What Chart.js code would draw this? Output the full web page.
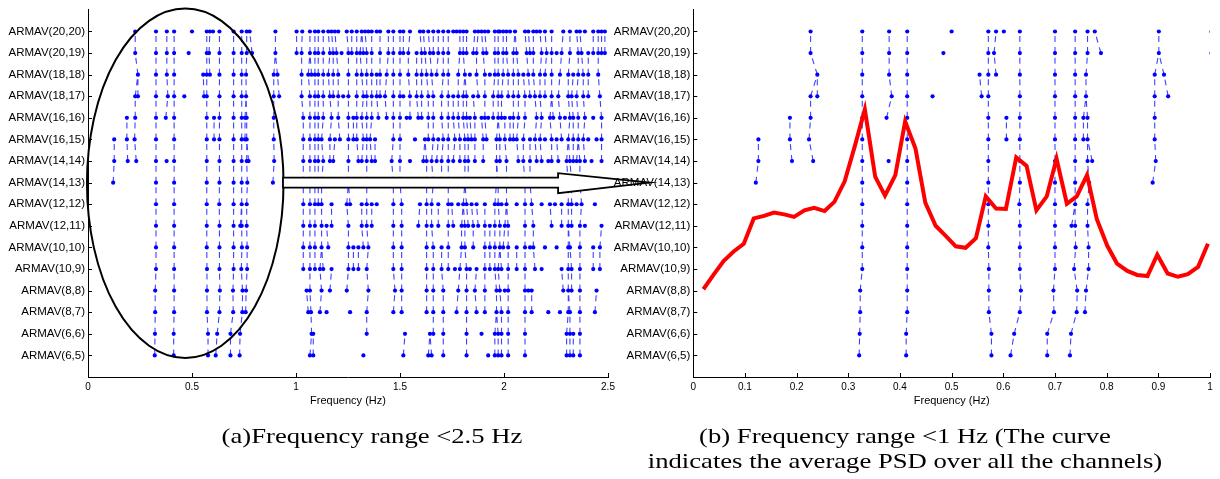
<!DOCTYPE html>
<html><head><meta charset="utf-8">
<script src="https://cdn.jsdelivr.net/npm/chart.js@4.4.1/dist/chart.umd.min.js"></script>
<style>
html,body{margin:0;padding:0;background:#fff;width:1220px;height:479px;overflow:hidden;}
#wrap{position:relative;width:1220px;height:479px;}
canvas{position:absolute;left:0;top:0;}
.cap{position:absolute;font-family:"Liberation Serif","Times New Roman",serif;font-size:21.5px;line-height:25px;color:#000;white-space:nowrap;text-align:center;transform:scaleX(1.24);transform-origin:center top;}
</style></head>
<body><div id="wrap">
<canvas id="c1" width="1220" height="479"></canvas>
<canvas id="c2" width="1220" height="479"></canvas>
<div class="cap" style="left:72px;top:424px;width:600px;">(a)Frequency range &lt;2.5 Hz</div>
<div class="cap" style="left:605px;top:424px;width:600px;">(b) Frequency range &lt;1 Hz (The curve<br>indicates the average PSD over all the channels)</div>
</div>
<script>
// ---- model orders (rows, bottom to top) ----
const rowLabels = ['ARMAV(6,5)','ARMAV(6,6)','ARMAV(8,7)','ARMAV(8,8)','ARMAV(10,9)','ARMAV(10,10)','ARMAV(12,11)','ARMAV(12,12)','ARMAV(14,13)','ARMAV(14,14)','ARMAV(16,15)','ARMAV(16,16)','ARMAV(18,17)','ARMAV(18,18)','ARMAV(20,19)','ARMAV(20,20)'];

// ---- identified pole frequencies (Hz) per model order ----
const poles_6_5 = [0.321,0.412,0.577,0.614,0.685,0.729,1.067,1.083,1.324,1.516,1.636,1.652,1.708,1.820,1.924,1.956,1.972,1.988,2.020,2.101,2.301,2.317,2.333,2.365];
const poles_6_6 = [0.322,0.412,0.577,0.621,0.685,0.731,1.075,1.083,1.340,1.524,1.644,1.660,1.708,1.820,1.892,1.956,1.972,1.988,2.020,2.101,2.301,2.317,2.333,2.365];
const poles_8_7 = [0.323,0.414,0.572,0.632,0.698,0.742,0.758,1.059,1.072,1.115,1.147,1.260,1.340,1.468,1.508,1.628,1.660,1.708,1.772,1.820,1.868,1.908,1.964,1.988,2.020,2.101,2.133,2.213,2.269,2.309,2.317,2.365,2.437];
const poles_8_8 = [0.323,0.414,0.572,0.634,0.697,0.743,0.760,1.051,1.067,1.123,1.163,1.244,1.348,1.476,1.508,1.628,1.660,1.708,1.780,1.820,1.860,1.908,1.964,1.980,2.004,2.020,2.101,2.117,2.133,2.285,2.309,2.325,2.365,2.445];
const poles_10_9 = [0.327,0.414,0.572,0.632,0.700,0.737,0.765,1.035,1.067,1.091,1.115,1.131,1.171,1.252,1.276,1.300,1.340,1.468,1.508,1.628,1.660,1.700,1.732,1.764,1.788,1.820,1.836,1.868,1.908,1.932,1.956,1.972,1.988,2.020,2.061,2.101,2.149,2.181,2.277,2.309,2.325,2.365,2.429,2.461];
const poles_10_10 = [0.327,0.414,0.571,0.632,0.700,0.740,0.765,1.035,1.067,1.091,1.123,1.155,1.252,1.276,1.300,1.324,1.348,1.468,1.508,1.628,1.660,1.700,1.732,1.796,1.812,1.852,1.908,1.932,1.956,1.980,1.996,2.020,2.061,2.101,2.125,2.141,2.197,2.253,2.309,2.317,2.365,2.429,2.461];
const poles_12_11 = [0.327,0.414,0.571,0.632,0.700,0.732,0.739,0.763,1.035,1.067,1.091,1.123,1.147,1.171,1.252,1.316,1.340,1.364,1.468,1.508,1.588,1.628,1.652,1.684,1.732,1.756,1.796,1.812,1.828,1.852,1.876,1.908,1.932,1.956,1.980,2.004,2.020,2.101,2.141,2.229,2.277,2.309,2.325,2.365,2.389,2.469];
const poles_12_12 = [0.327,0.414,0.571,0.631,0.700,0.739,0.763,1.035,1.067,1.091,1.107,1.123,1.171,1.244,1.260,1.316,1.340,1.364,1.388,1.468,1.508,1.596,1.628,1.652,1.684,1.732,1.748,1.780,1.804,1.820,1.844,1.868,1.908,1.956,1.972,1.988,2.012,2.061,2.101,2.133,2.181,2.221,2.245,2.277,2.309,2.325,2.349,2.373,2.437];
const poles_14_13 = [0.121,0.327,0.414,0.571,0.632,0.700,0.739,0.766,0.889,1.035,1.067,1.091,1.107,1.123,1.252,1.340,1.468,1.500,1.628,1.660,1.700,1.732,1.812,1.828,1.964,1.972,2.012,2.101,2.125,2.309,2.325,2.365];
const poles_14_14 = [0.126,0.191,0.232,0.327,0.378,0.414,0.571,0.632,0.700,0.739,0.763,0.772,0.895,1.035,1.067,1.091,1.107,1.131,1.163,1.179,1.252,1.300,1.316,1.340,1.364,1.380,1.460,1.500,1.548,1.612,1.628,1.652,1.676,1.700,1.732,1.756,1.788,1.812,1.828,1.860,1.900,1.964,1.980,2.012,2.069,2.093,2.125,2.157,2.181,2.213,2.229,2.261,2.301,2.317,2.333,2.349,2.365,2.389,2.421,2.469];
const poles_16_15 = [0.126,0.187,0.224,0.327,0.414,0.571,0.606,0.632,0.700,0.739,0.755,0.763,0.893,1.035,1.067,1.091,1.107,1.123,1.163,1.187,1.211,1.252,1.276,1.292,1.324,1.340,1.356,1.380,1.468,1.500,1.572,1.620,1.636,1.660,1.684,1.708,1.732,1.764,1.788,1.812,1.828,1.844,1.860,1.900,1.916,1.964,1.980,2.004,2.029,2.045,2.061,2.093,2.125,2.149,2.173,2.197,2.229,2.253,2.277,2.309,2.333,2.357,2.381,2.405,2.445,2.469];
const poles_16_16 = [0.187,0.227,0.327,0.374,0.414,0.571,0.606,0.632,0.700,0.739,0.755,0.763,0.893,1.035,1.067,1.091,1.107,1.131,1.171,1.203,1.252,1.276,1.292,1.316,1.340,1.364,1.396,1.436,1.468,1.500,1.532,1.548,1.588,1.604,1.636,1.660,1.700,1.732,1.756,1.780,1.804,1.820,1.836,1.860,1.892,1.908,1.924,1.948,1.972,1.988,2.004,2.029,2.045,2.069,2.101,2.157,2.181,2.221,2.237,2.269,2.293,2.317,2.333,2.357,2.389,2.429,2.469];
const poles_18_17 = [0.227,0.240,0.327,0.384,0.414,0.463,0.558,0.571,0.632,0.700,0.739,0.760,0.893,0.919,1.027,1.067,1.091,1.107,1.131,1.163,1.179,1.203,1.227,1.252,1.292,1.324,1.340,1.364,1.388,1.404,1.428,1.468,1.500,1.516,1.548,1.580,1.604,1.636,1.660,1.700,1.732,1.756,1.780,1.804,1.820,1.852,1.876,1.908,1.948,1.972,1.988,2.020,2.045,2.069,2.101,2.125,2.149,2.173,2.197,2.229,2.261,2.309,2.325,2.349,2.381,2.405,2.461];
const poles_18_18 = [0.240,0.327,0.379,0.414,0.554,0.571,0.586,0.632,0.700,0.739,0.760,0.893,0.911,1.027,1.059,1.075,1.091,1.107,1.131,1.155,1.179,1.203,1.252,1.292,1.316,1.340,1.364,1.388,1.404,1.436,1.468,1.500,1.540,1.580,1.604,1.628,1.652,1.676,1.708,1.732,1.780,1.812,1.836,1.868,1.908,1.932,1.956,1.972,1.996,2.020,2.045,2.069,2.093,2.117,2.141,2.173,2.197,2.229,2.269,2.309,2.333,2.357,2.381,2.405,2.453];
const poles_20_19 = [0.227,0.327,0.379,0.414,0.484,0.571,0.582,0.632,0.700,0.739,0.763,0.789,0.901,1.003,1.027,1.067,1.091,1.107,1.131,1.163,1.179,1.195,1.219,1.252,1.268,1.292,1.308,1.324,1.340,1.364,1.404,1.444,1.468,1.500,1.516,1.540,1.580,1.604,1.620,1.644,1.660,1.684,1.708,1.732,1.788,1.804,1.820,1.852,1.868,1.900,1.916,1.956,1.972,1.996,2.012,2.045,2.061,2.109,2.125,2.141,2.181,2.205,2.229,2.253,2.277,2.317,2.357,2.373,2.405,2.429,2.453,2.469,2.485];
const poles_20_20 = [0.227,0.327,0.379,0.414,0.500,0.571,0.586,0.601,0.632,0.700,0.739,0.763,0.777,0.901,1.003,1.030,1.067,1.091,1.107,1.131,1.155,1.171,1.187,1.203,1.244,1.268,1.292,1.316,1.332,1.348,1.364,1.388,1.404,1.444,1.468,1.500,1.516,1.548,1.596,1.612,1.636,1.660,1.684,1.708,1.732,1.756,1.772,1.788,1.804,1.820,1.860,1.876,1.892,1.908,1.924,1.956,1.972,1.980,1.996,2.012,2.029,2.053,2.101,2.117,2.141,2.157,2.173,2.197,2.229,2.285,2.317,2.349,2.365,2.389,2.429,2.453,2.469,2.485];

// ---- average PSD over all channels (relative level) ----
const psdFreq = [0.0195,0.039,0.0586,0.0781,0.0977,0.117,0.137,0.156,0.176,0.195,0.215,0.234,0.254,0.273,0.293,0.313,0.332,0.352,0.371,0.391,0.410,0.430,0.449,0.469,0.488,0.508,0.527,0.547,0.566,0.586,0.605,0.625,0.645,0.664,0.684,0.703,0.723,0.742,0.762,0.781,0.801,0.820,0.840,0.859,0.879,0.898,0.918,0.938,0.957,0.977,0.996];
const psdLevel = [0.239,0.278,0.316,0.342,0.363,0.432,0.439,0.448,0.443,0.436,0.454,0.461,0.452,0.477,0.533,0.631,0.729,0.546,0.494,0.550,0.696,0.622,0.475,0.412,0.385,0.356,0.352,0.378,0.492,0.459,0.458,0.598,0.575,0.454,0.492,0.595,0.472,0.492,0.550,0.430,0.358,0.309,0.289,0.278,0.275,0.333,0.282,0.273,0.280,0.300,0.363];

// ---- tick values ----
const xTicksA = [0,0.5,1,1.5,2,2.5];
const xTicksB = [0,0.1,0.2,0.3,0.4,0.5,0.6,0.7,0.8,0.9,1];

const poleRows = [poles_6_5,poles_6_6,poles_8_7,poles_8_8,poles_10_9,poles_10_10,poles_12_11,poles_12_12,poles_14_13,poles_14_14,poles_16_15,poles_16_16,poles_18_17,poles_18_18,poles_20_19,poles_20_20];

// points
const polePoints = [];
poleRows.forEach((row, r) => row.forEach(f => polePoints.push({x: f, y: r + 1})));
// stabilisation links between consecutive orders (nearest pole within tolerance)
const linkPoints = [];
for (let r = 0; r < poleRows.length - 1; r++) {
  poleRows[r].forEach(f => {
    let best = null, bd = 1e9;
    poleRows[r + 1].forEach(g => { const d = Math.abs(g - f); if (d < bd) { bd = d; best = g; } });
    const tol = f < 1 ? 0.0145 : 0.0085;
    if (best !== null && bd <= tol) {
      linkPoints.push({x: f, y: r + 1}, {x: best, y: r + 2}, {x: best, y: null});
    }
  });
}
const psdPoints = psdFreq.map((f, i) => ({x: f, y: psdLevel[i]}));

Chart.defaults.font.family = '"Liberation Sans", Arial, sans-serif';
Chart.defaults.color = '#000';

const inwardTicks = {
  id: 'inwardTicks',
  afterDraw(chart) {
    const {ctx, chartArea: a, scales} = chart;
    ctx.save();
    ctx.strokeStyle = '#000'; ctx.lineWidth = 1;
    ctx.beginPath();
    scales.x.ticks.forEach(t => { const p = Math.round(scales.x.getPixelForValue(t.value)) + 0.5; ctx.moveTo(p, a.bottom); ctx.lineTo(p, a.bottom - 4); });
    scales.y.ticks.forEach(t => { const p = Math.round(scales.y.getPixelForValue(t.value)) + 0.5; ctx.moveTo(a.left, p); ctx.lineTo(a.left + 4, p); });
    ctx.stroke();
    ctx.restore();
  }
};

const annotations = {
  id: 'annotations',
  afterDatasetsDraw(chart) {
    const {ctx, scales: {x, y}} = chart;
    ctx.save();
    // ellipse around the stable low-frequency modes
    const ex0 = x.getPixelForValue(-0.005), ex1 = x.getPixelForValue(0.94);
    const ey0 = y.getPixelForValue(17.06), ey1 = y.getPixelForValue(0.88);
    ctx.beginPath();
    ctx.ellipse((ex0 + ex1) / 2, (ey0 + ey1) / 2, (ex1 - ex0) / 2, (ey1 - ey0) / 2, 0, 0, Math.PI * 2);
    ctx.lineWidth = 2; ctx.strokeStyle = '#000'; ctx.stroke();
    // block arrow to panel (b)
    const ax0 = x.getPixelForValue(0.9375), axh = x.getPixelForValue(2.26), axt = x.getPixelForValue(2.70);
    const ay = y.getPixelForValue(9);
    ctx.beginPath();
    ctx.moveTo(ax0, ay - 5); ctx.lineTo(axh, ay - 5); ctx.lineTo(axh, ay - 9.5);
    ctx.lineTo(axt, ay); ctx.lineTo(axh, ay + 10.5); ctx.lineTo(axh, ay + 5);
    ctx.lineTo(ax0, ay + 5); ctx.closePath();
    ctx.fillStyle = '#fff'; ctx.fill();
    ctx.lineWidth = 1.8; ctx.stroke();
    ctx.restore();
  }
};

function yScale(width) {
  return {
    type: 'linear', min: 0, max: 17,
    afterBuildTicks: s => { s.ticks = rowLabels.map((_, i) => ({value: i + 1})); },
    afterFit: s => { s.width = width; },
    ticks: {autoSkip: false, padding: 3, font: {size: 11.5}, color: '#000', callback: v => rowLabels[v - 1]},
    grid: {display: false, drawTicks: false},
    border: {display: true, color: '#000', width: 1}
  };
}
function xScale(min, max, ticks) {
  return {
    type: 'linear', min, max,
    afterBuildTicks: s => { s.ticks = ticks.map(v => ({value: v})); },
    afterFit: s => { s.height = 102; },
    ticks: {autoSkip: false, padding: 4, maxRotation: 0, font: {size: 10}, color: '#000', callback: v => String(v)},
    grid: {display: false, drawTicks: false},
    border: {display: true, color: '#000', width: 1},
    title: {display: true, text: 'Frequency (Hz)', font: {size: 11}, color: '#000', padding: {top: 0, bottom: 71}}
  };
}

const linkDataset = () => ({data: linkPoints, showLine: true, spanGaps: false, pointRadius: 0, borderColor: 'rgba(0,0,255,0.75)', borderWidth: 1.1, borderDash: [6, 5], order: 2});
const pointDataset = () => ({data: polePoints, showLine: false, pointRadius: 2.1, pointHoverRadius: 2.1, pointBackgroundColor: '#0000ff', pointBorderWidth: 0, order: 1});

const common = {
  responsive: false, animation: false, devicePixelRatio: 1,
  plugins: {legend: {display: false}, tooltip: {enabled: false}},
  events: []
};

new Chart(document.getElementById('c1'), {
  type: 'scatter',
  data: {datasets: [pointDataset(), linkDataset()]},
  options: Object.assign({}, common, {
    layout: {padding: {left: 0, top: 4, right: 612, bottom: 0}},
    scales: {x: xScale(0, 2.5, xTicksA), y: yScale(88)}
  }),
  plugins: [inwardTicks, annotations]
});

new Chart(document.getElementById('c2'), {
  type: 'scatter',
  data: {datasets: [
    {data: psdPoints, showLine: true, pointRadius: 0, borderColor: '#ff0000', borderWidth: 4, yAxisID: 'yPsd', order: 0},
    pointDataset(), linkDataset()
  ]},
  options: Object.assign({}, common, {
    layout: {padding: {left: 600, top: 4, right: 10, bottom: 0}},
    scales: {
      x: xScale(0, 1, xTicksB),
      y: yScale(93.3),
      yPsd: {type: 'linear', display: false, min: 0, max: 1}
    }
  }),
  plugins: [inwardTicks]
});
</script>
</body></html>
